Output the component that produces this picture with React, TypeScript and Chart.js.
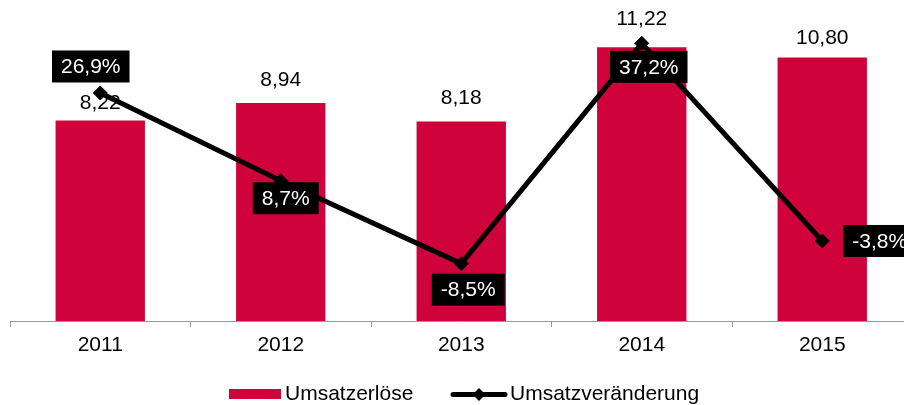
import React, { useEffect, useRef } from "react";
import { Chart, registerables } from "chart.js";

Chart.register(...registerables);

// ---- data ----
const years = ["2011", "2012", "2013", "2014", "2015"];
const revenue = [8.22, 8.94, 8.18, 11.22, 10.8];
const revenueLabels = ["8,22", "8,94", "8,18", "11,22", "10,80"];
const change = [26.9, 8.7, -8.5, 37.2, -3.8];
const changeLabels = ["26,9%", "8,7%", "-8,5%", "37,2%", "-3,8%"];
const seriesNames = ["Umsatzerlöse", "Umsatzveränderung"];

// ---- style ----
const FONT = '"Liberation Sans", Arial, Helvetica, sans-serif';
const RED = "#D0023C";
const W = 920;
const H = 405;
const barLabelGap = [17, 23, 23, 28, 19];
// [mode, dx, dy] for line labels (box center, or box left edge for "right")
const lineLabelPlace: [string, number, number][] = [
  ["c", -9.5, -26.5],
  ["c", 5, 17.5],
  ["c", 7, 26],
  ["c", 7, 23.5],
  ["right", 21, 0],
];

const labelPlugin = {
  id: "customLabels",
  afterDatasetDraw(chart: any, args: any) {
    if (args.index !== 0) return;
    const ctx = chart.ctx;
    const meta = chart.getDatasetMeta(0);
    ctx.save();
    ctx.font = `21px ${FONT}`;
    ctx.fillStyle = "#000";
    ctx.textAlign = "center";
    ctx.textBaseline = "middle";
    meta.data.forEach((el: any, i: number) => {
      ctx.fillText(revenueLabels[i], el.x, el.y - barLabelGap[i]);
    });
    ctx.restore();
  },
  afterDatasetsDraw(chart: any) {
    const ctx = chart.ctx;
    const meta = chart.getDatasetMeta(1);
    ctx.save();
    ctx.font = `21px ${FONT}`;
    ctx.textAlign = "center";
    ctx.textBaseline = "middle";
    meta.data.forEach((el: any, i: number) => {
      const text = changeLabels[i];
      const tw = ctx.measureText(text).width;
      const bw = tw + 18;
      const bh = 32;
      const [mode, dx, dy] = lineLabelPlace[i];
      const cx = mode === "right" ? el.x + dx + bw / 2 : el.x + dx;
      const cy = el.y + dy;
      ctx.fillStyle = "#000";
      ctx.fillRect(cx - bw / 2, cy - bh / 2, bw, bh);
      ctx.fillStyle = "#fff";
      ctx.fillText(text, cx, cy + 1);
    });
    ctx.restore();
  },
  afterDraw(chart: any) {
    const ctx = chart.ctx;
    ctx.save();
    // bar legend item
    ctx.fillStyle = RED;
    ctx.fillRect(229, 389, 52, 10);
    ctx.font = `21px ${FONT}`;
    ctx.fillStyle = "#000";
    ctx.textAlign = "left";
    ctx.textBaseline = "alphabetic";
    ctx.fillText(seriesNames[0], 285, 399.5);
    // line legend item
    ctx.strokeStyle = "#000";
    ctx.lineWidth = 5;
    ctx.lineCap = "round";
    ctx.beginPath();
    ctx.moveTo(453, 394.5);
    ctx.lineTo(505, 394.5);
    ctx.stroke();
    ctx.fillStyle = "#000";
    ctx.beginPath();
    ctx.moveTo(479, 388);
    ctx.lineTo(485.5, 394.5);
    ctx.lineTo(479, 401);
    ctx.lineTo(472.5, 394.5);
    ctx.closePath();
    ctx.fill();
    ctx.fillText(seriesNames[1], 510, 399.5);
    ctx.restore();
  },
};

export default function App() {
  const ref = useRef<HTMLCanvasElement | null>(null);

  useEffect(() => {
    if (!ref.current) return;
    const chart = new Chart(ref.current, {
      type: "bar",
      data: {
        labels: years,
        datasets: [
          {
            type: "bar",
            label: seriesNames[0],
            data: revenue,
            backgroundColor: RED,
            yAxisID: "y",
            order: 1,
            categoryPercentage: 1,
            barPercentage: 0.495,
          } as any,
          {
            type: "line",
            label: seriesNames[1],
            data: change,
            borderColor: "#000",
            borderWidth: 5,
            pointStyle: "rectRot",
            pointRadius: 7,
            pointBackgroundColor: "#000",
            pointBorderColor: "#000",
            pointBorderWidth: 1,
            yAxisID: "y1",
            order: 0,
            tension: 0,
          } as any,
        ],
      },
      options: {
        responsive: false,
        animation: false,
        devicePixelRatio: 1,
        layout: { autoPadding: false, padding: { left: 10, right: 7.5, top: 0, bottom: 0 } },
        plugins: { legend: { display: false }, tooltip: { enabled: false } },
        scales: {
          x: {
            offset: true,
            grid: {
              offset: true,
              drawOnChartArea: false,
              drawTicks: true,
              tickLength: 6,
              color: "#999",
              lineWidth: 1,
            },
            border: { color: "#999", width: 1 },
            ticks: {
              color: "#000",
              font: { family: FONT, size: 21 },
              padding: 6,
              maxRotation: 0,
              autoSkip: false,
            },
            afterFit: (s: any) => {
              s.height = 84;
            },
          },
          y: { display: false, min: 0, max: 13.16 },
          y1: { display: false, min: -20.4, max: 46.19 },
        },
      } as any,
      plugins: [labelPlugin],
    });
    return () => chart.destroy();
  }, []);

  return (
    <div
      style={{
        position: "fixed",
        left: 0,
        top: 0,
        width: 904,
        height: 405,
        overflow: "hidden",
        background: "#fff",
      }}
    >
      <canvas ref={ref} width={W} height={H} style={{ display: "block", width: W, height: H }} />
    </div>
  );
}
